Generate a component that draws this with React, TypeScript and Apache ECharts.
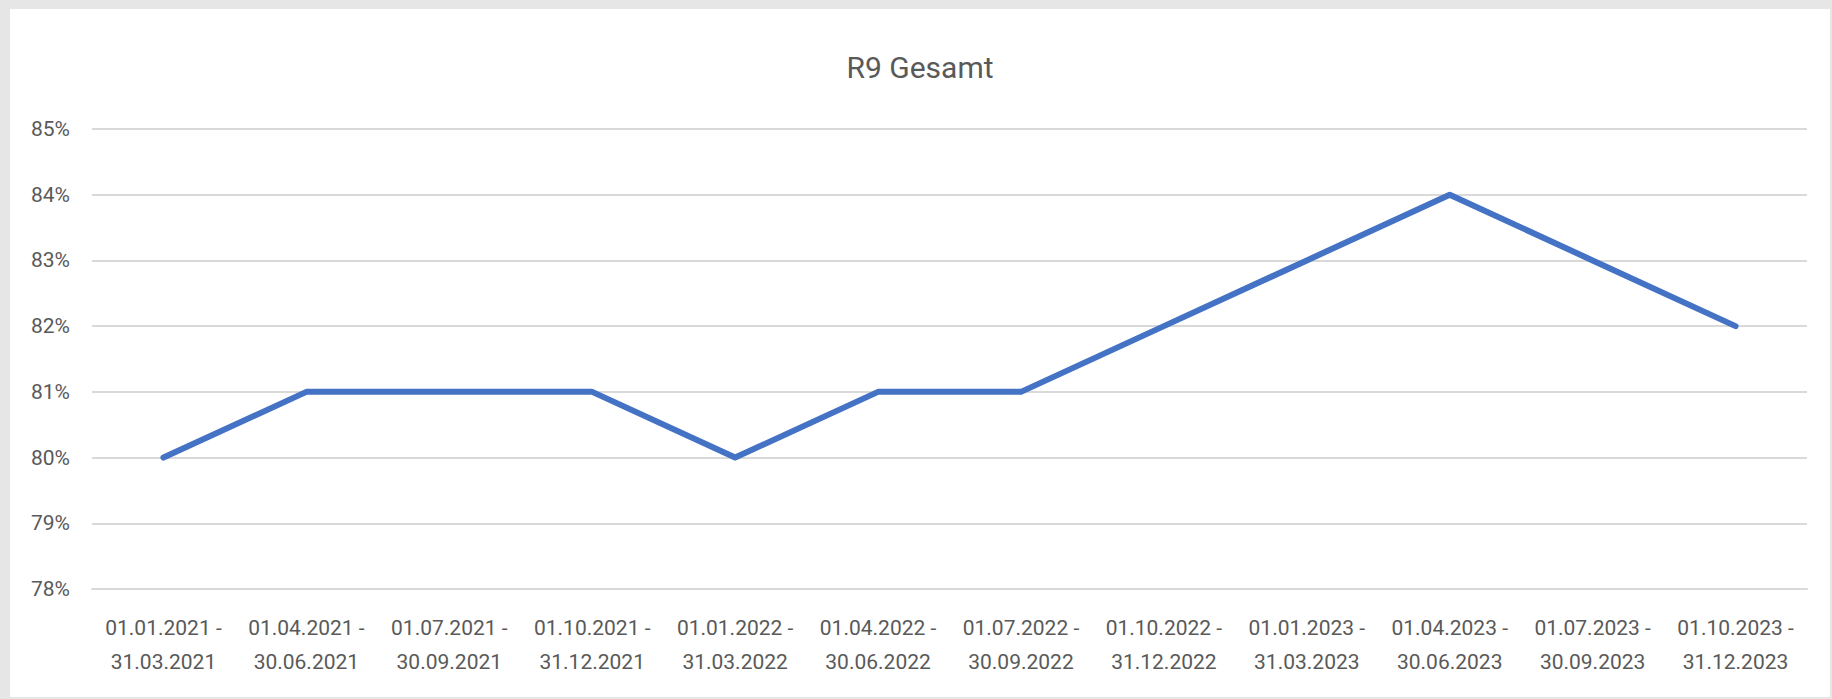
import React, { useEffect, useRef } from "react";
import * as echarts from "echarts";

const title = "R9 Gesamt";
const periodStarts = [
  "01.01.2021", "01.04.2021", "01.07.2021", "01.10.2021",
  "01.01.2022", "01.04.2022", "01.07.2022", "01.10.2022",
  "01.01.2023", "01.04.2023", "01.07.2023", "01.10.2023",
];
const periodEnds = [
  "31.03.2021", "30.06.2021", "30.09.2021", "31.12.2021",
  "31.03.2022", "30.06.2022", "30.09.2022", "31.12.2022",
  "31.03.2023", "30.06.2023", "30.09.2023", "31.12.2023",
];
const values = [80, 81, 81, 81, 80, 81, 81, 82, 83, 84, 83, 82];
const yMin = 78;
const yMax = 85;
const yStep = 1;

const categories = periodStarts.map((s, i) => `${s} -\n${periodEnds[i]}`);

export default function App() {
  const ref = useRef<HTMLDivElement>(null);
  useEffect(() => {
    document.body.style.margin = "0";
    if (!ref.current) return;
    const chart = echarts.init(ref.current, null, { renderer: "svg" });
    const font = "Roboto, 'Noto Sans', sans-serif";
    chart.setOption({
      animation: false,
      backgroundColor: "#ffffff",
      title: {
        text: title,
        left: "center",
        top: 38,
        textStyle: { fontFamily: font, fontSize: 30, fontWeight: "normal", color: "#595959" },
      },
      grid: { left: 82, right: 23, top: 120, bottom: 108, containLabel: false },
      xAxis: {
        type: "category",
        data: categories,
        boundaryGap: true,
        axisLine: { show: true, lineStyle: { color: "#d9d9d9", width: 2 } },
        axisTick: { show: false },
        axisLabel: {
          interval: 0,
          margin: 22,
          fontFamily: font,
          fontSize: 21,
          lineHeight: 34,
          color: "#595959",
        },
      },
      yAxis: {
        type: "value",
        min: yMin,
        max: yMax,
        interval: yStep,
        axisLine: { show: false },
        axisTick: { show: false },
        axisLabel: {
          margin: 22,
          fontFamily: font,
          fontSize: 21,
          color: "#595959",
          formatter: "{value}%",
        },
        splitLine: { lineStyle: { color: "#d9d9d9", width: 2 } },
      },
      series: [
        {
          type: "line",
          data: values,
          symbol: "none",
          lineStyle: { color: "#4472C4", width: 6, cap: "round", join: "round" },
        },
      ],
    });
    return () => chart.dispose();
  }, []);
  return (
    <div style={{ position: "relative", width: 1832, height: 699, background: "#e6e6e6" }}>
      <div
        ref={ref}
        style={{ position: "absolute", left: 10, top: 9, width: 1820, height: 688, background: "#ffffff" }}
      />
    </div>
  );
}
